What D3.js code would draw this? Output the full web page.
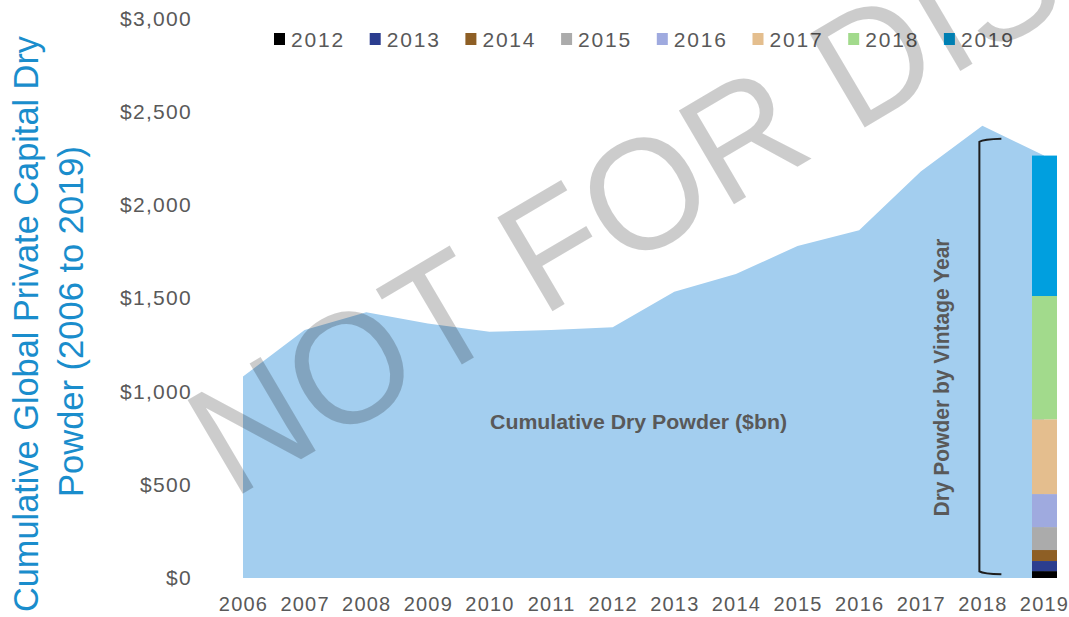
<!DOCTYPE html>
<html>
<head>
<meta charset="utf-8">
<script src="https://d3js.org/d3.v7.min.js"></script>
<style>
  body { margin: 0; background: #fff; }
  svg { display: block; }
</style>
</head>
<body>
<div id="chart"></div>
<script>
// Cumulative global private capital dry powder ($bn)
const years = ["2006", "2007", "2008", "2009", "2010", "2011", "2012", "2013", "2014", "2015", "2016", "2017", "2018", "2019"];
const dryPowder = [1080, 1330, 1425, 1365, 1320, 1330, 1345, 1535, 1630, 1780, 1865, 2180, 2425, 2265];

// 2019 dry powder split by vintage year ($bn)
const vintages = ["2012", "2013", "2014", "2015", "2016", "2017", "2018", "2019"];
const vintageValues = [37, 54, 59, 123, 177, 401, 661, 753];

// y axis ticks
const yTicks = [0, 500, 1000, 1500, 2000, 2500, 3000];

// value range the bracket spans
const bracketSpan = [25, 2350];

const vintageColors = ["#000000", "#2b3d8f", "#8e5f25", "#ababab", "#9faadf", "#e4be8e", "#a2da8c", "#009fdf"];

const width = 1069, height = 617;
const font = "'Liberation Sans', Arial, sans-serif";
const grey = "#595959";

const svg = d3.select("#chart")
  .append("svg")
  .attr("width", width)
  .attr("height", height);

// scales
const x = d3.scalePoint()
  .domain(years)
  .range([243, 1044]);

const y = d3.scaleLinear()
  .domain([0, 3000])
  .range([578, 18.5]);

const areaData = years.map((yr, i) => ({ year: yr, value: dryPowder[i] }));

// the big area
svg.append("path")
  .datum(areaData)
  .attr("fill", "#a3ceef")
  .attr("d", d3.area()
    .x(d => x(d.year))
    .y0(y(0))
    .y1(d => y(d.value)));

// y axis labels
const yAxis = svg.append("g")
  .attr("transform", "translate(243,0)")
  .call(d3.axisLeft(y)
    .tickValues(yTicks)
    .tickSize(0)
    .tickPadding(51)
    .tickFormat(d => "$" + d3.format(",")(d)));
yAxis.select(".domain").remove();
yAxis.selectAll("text")
  .style("font-family", font)
  .style("font-size", "21px")
  .style("letter-spacing", "1.3px")
  .style("fill", grey);

// x axis labels
const xAxis = svg.append("g")
  .attr("transform", `translate(0,${y(0)})`)
  .call(d3.axisBottom(x).tickSize(0).tickPadding(19));
xAxis.select(".domain").remove();
xAxis.selectAll("text")
  .style("font-family", font)
  .style("font-size", "20px")
  .style("letter-spacing", "1.2px")
  .style("fill", grey);

// stacked vintage bar at 2019
const cum = d3.cumsum(vintageValues);
const barX = x("2019") - 12;
svg.selectAll(".vbar")
  .data(vintageValues)
  .enter()
  .append("rect")
  .attr("class", "vbar")
  .attr("x", barX)
  .attr("width", 25)
  .attr("y", (d, i) => y(cum[i]))
  .attr("height", (d, i) => y(cum[i] - d) - y(cum[i]))
  .attr("fill", (d, i) => vintageColors[i]);

// bracket left of the bar
const bx = x("2018") - 3;
const bt = y(bracketSpan[1]), bb = y(bracketSpan[0]);
svg.append("path")
  .attr("d", `M${bx + 22},${bt - 1} Q${bx + 4},${bt - 0.5} ${bx},${bt + 2} L${bx},${bb - 2} Q${bx + 4},${bb + 0.5} ${bx + 22},${bb + 1}`)
  .attr("fill", "none")
  .attr("stroke", "#1e1e1e")
  .attr("stroke-width", 2);

// annotations
svg.append("text")
  .attr("x", 638.5)
  .attr("y", 429)
  .attr("text-anchor", "middle")
  .attr("textLength", 297)
  .attr("lengthAdjust", "spacingAndGlyphs")
  .style("font-family", font)
  .style("font-size", "21px")
  .style("font-weight", "700")
  .style("fill", grey)
  .text("Cumulative Dry Powder ($bn)");

svg.append("text")
  .attr("transform", "translate(949,377.5) rotate(-90)")
  .attr("text-anchor", "middle")
  .attr("textLength", 278)
  .attr("lengthAdjust", "spacingAndGlyphs")
  .style("font-family", font)
  .style("font-size", "22px")
  .style("font-weight", "700")
  .style("fill", grey)
  .text("Dry Powder by Vintage Year");

// y axis title, two lines
const titleLines = ["Cumulative Global Private Capital Dry", "Powder (2006 to 2019)"];
const titleLayout = [{ x: 38, cy: 324, len: 576 }, { x: 82.5, cy: 321.5, len: 351 }];
svg.selectAll(".ytitle")
  .data(titleLines)
  .enter()
  .append("text")
  .attr("class", "ytitle")
  .attr("transform", (d, i) => `translate(${titleLayout[i].x},${titleLayout[i].cy}) rotate(-90)`)
  .attr("text-anchor", "middle")
  .attr("textLength", (d, i) => titleLayout[i].len)
  .attr("lengthAdjust", "spacingAndGlyphs")
  .style("font-family", font)
  .style("font-size", "34.5px")
  .style("fill", "#1a8dcc")
  .text(d => d);

// legend
const legend = svg.selectAll(".legend")
  .data(vintages)
  .enter()
  .append("g")
  .attr("class", "legend")
  .attr("transform", (d, i) => `translate(${274 + i * 95.7},0)`);
legend.append("rect")
  .attr("y", 33)
  .attr("width", 11)
  .attr("height", 12)
  .attr("fill", (d, i) => vintageColors[i]);
legend.append("text")
  .attr("x", 17)
  .attr("y", 46.7)
  .style("font-family", font)
  .style("font-size", "21px")
  .style("letter-spacing", "1.8px")
  .style("fill", grey)
  .text(d => d);

// watermark on top
svg.append("text")
  .attr("transform", "translate(232,500) rotate(-30.5) scale(0.96,1)")
  .style("font-family", font)
  .style("font-size", "158px")
  .style("fill", "#000")
  .style("fill-opacity", 0.2)
  .style("pointer-events", "none")
  .text("NOT FOR DISTRIBUTION");
</script>
</body>
</html>
